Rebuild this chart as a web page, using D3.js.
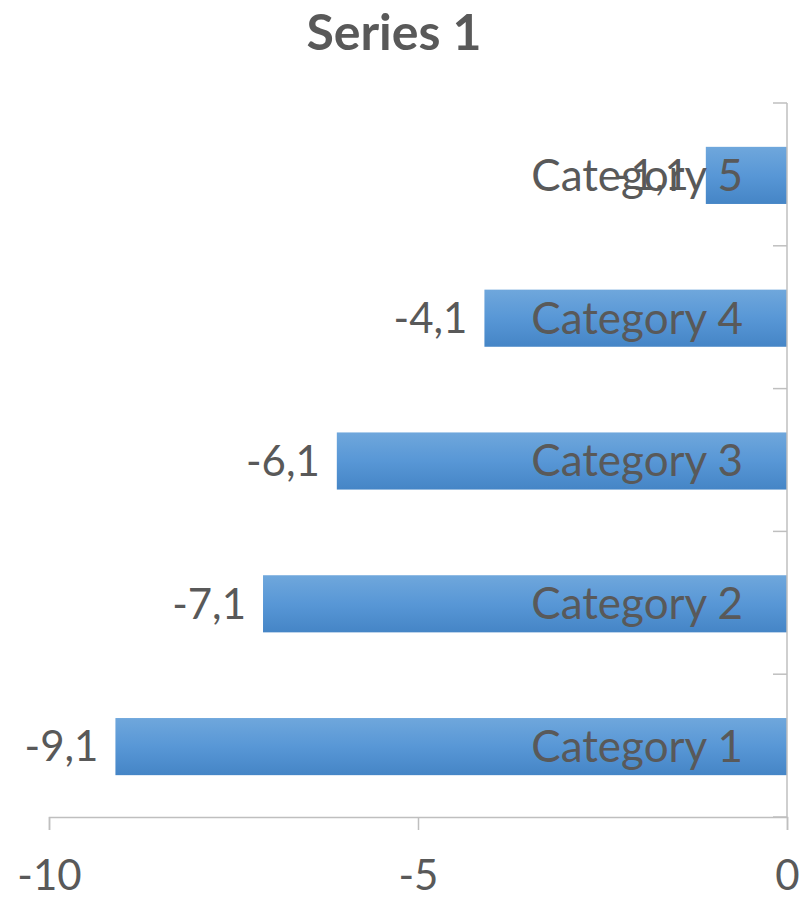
<!DOCTYPE html>
<html>
<head>
<meta charset="utf-8">
<script src="https://cdn.jsdelivr.net/npm/d3@7"></script>
<style>
  html, body { margin: 0; padding: 0; background: #fff; }
  svg { display: block; }
  text { font-family: Lato, "Open Sans", sans-serif; fill: #595959; }
</style>
</head>
<body>
<svg id="chart" width="811" height="900"></svg>
<script>
// Chart data
const title = "Series 1";
const categories = ["Category 1", "Category 2", "Category 3", "Category 4", "Category 5"];
const values = [-9.1, -7.1, -6.1, -4.1, -1.1];
const xTicks = [-10, -5, 0];

const svg = d3.select("#chart");
const W = 811, H = 900;
const margin = { top: 103, right: 24, bottom: 83, left: 49 };
const plotRight = W - margin.right;
const plotBottom = H - margin.bottom;

const x = d3.scaleLinear().domain([-10, 0]).range([margin.left, plotRight]);
const y = d3.scaleBand()
  .domain(categories)
  .range([plotBottom, margin.top])
  .paddingInner(0.6)
  .paddingOuter(0.3);

// Bar fill gradient
const defs = svg.append("defs");
const grad = defs.append("linearGradient")
  .attr("id", "barFill").attr("x1", 0).attr("y1", 0).attr("x2", 0).attr("y2", 1);
grad.append("stop").attr("offset", "0%").attr("stop-color", "#6fa7dc");
grad.append("stop").attr("offset", "50%").attr("stop-color", "#5897d6");
grad.append("stop").attr("offset", "100%").attr("stop-color", "#4585c6");

// Title
svg.append("text")
  .attr("x", 394).attr("y", 50)
  .attr("text-anchor", "middle")
  .style("font-size", "50px").style("font-weight", "bold")
  .text(title);

// Bars
const data = categories.map((c, i) => ({ c, v: values[i] }));
svg.append("g").selectAll("rect").data(data).join("rect")
  .attr("x", d => x(d.v))
  .attr("width", d => x(0) - x(d.v))
  .attr("y", d => y(d.c) + 1)
  .attr("height", y.bandwidth())
  .attr("fill", "url(#barFill)");

// Bottom value axis
const xAxis = svg.append("g")
  .attr("transform", `translate(0,${plotBottom})`)
  .call(d3.axisBottom(x).tickValues(xTicks).tickSize(13).tickPadding(30)
    .tickFormat(d => String(d)));
xAxis.select(".domain").attr("stroke", "#bfbfbf").attr("stroke-width", 1.5);
xAxis.selectAll(".tick line").attr("stroke", "#bfbfbf").attr("stroke-width", 1.5);
xAxis.selectAll(".tick text")
  .style("font-size", "42px").style("fill", "#595959")
  .attr("font-family", "Lato, sans-serif");

// Category axis at zero
const yStep = (plotBottom - margin.top) / categories.length;
const yAxis = svg.append("g");
yAxis.append("line")
  .attr("x1", x(0)).attr("x2", x(0))
  .attr("y1", margin.top).attr("y2", plotBottom)
  .attr("stroke", "#bfbfbf").attr("stroke-width", 1.5);
yAxis.selectAll("line.tk").data(d3.range(categories.length + 1)).join("line")
  .attr("class", "tk")
  .attr("x1", x(0) - 14).attr("x2", x(0))
  .attr("y1", i => margin.top + i * yStep)
  .attr("y2", i => margin.top + i * yStep)
  .attr("stroke", "#bfbfbf").attr("stroke-width", 1.5);

// Category labels beside the axis
svg.append("g").selectAll("text").data(data).join("text")
  .attr("x", x(0) - 44)
  .attr("y", d => y(d.c) + 1 + y.bandwidth() / 2)
  .attr("dy", "0.35em")
  .attr("text-anchor", "end")
  .style("font-size", "44px")
  .text(d => d.c);

// Value labels at bar ends
const fmt = v => d3.format(".1f")(v).replace("−", "-").replace(".", ",");
svg.append("g").selectAll("text").data(data).join("text")
  .attr("x", d => x(d.v) - 17)
  .attr("y", d => y(d.c) + 1 + y.bandwidth() / 2)
  .attr("dy", "0.35em")
  .attr("text-anchor", "end")
  .style("font-size", "42px")
  .text(d => fmt(d.v));
</script>
</body>
</html>
